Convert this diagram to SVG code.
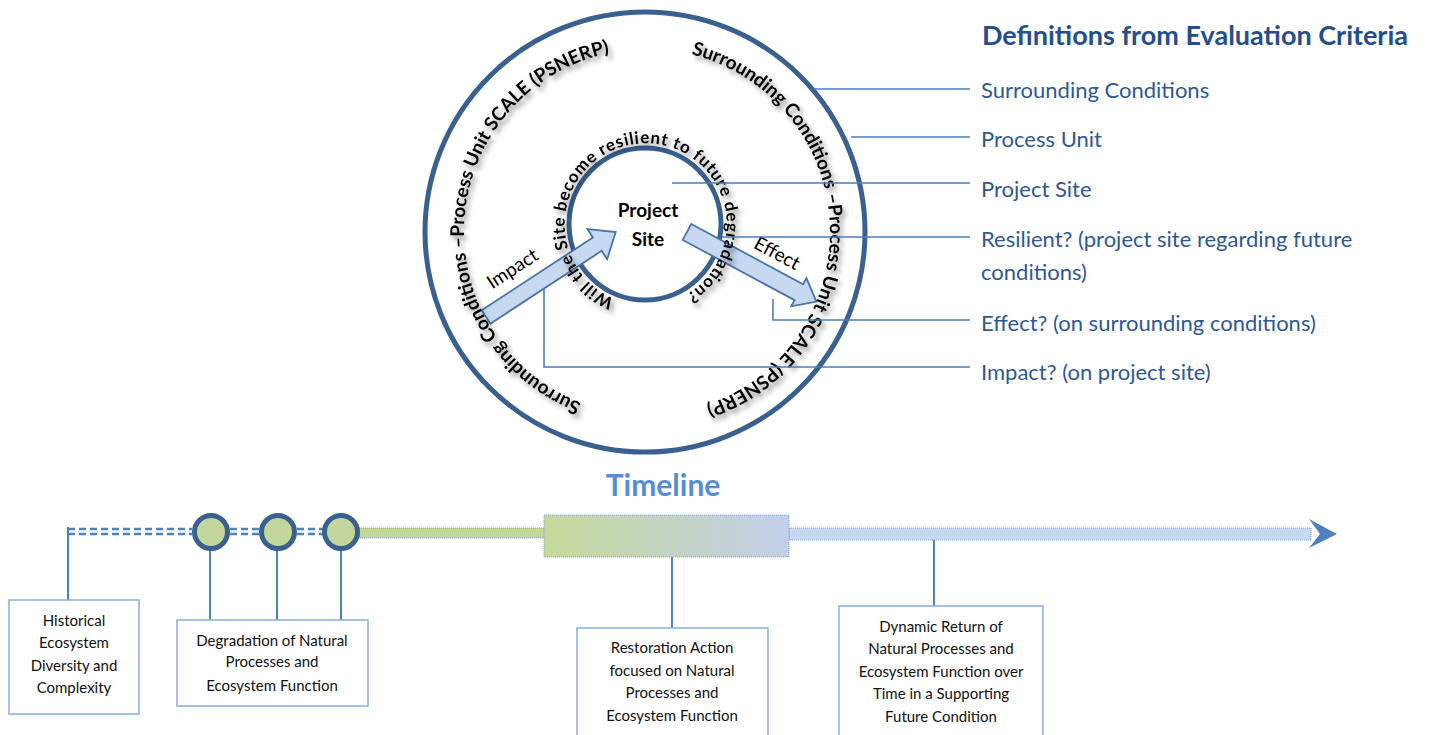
<svg xmlns="http://www.w3.org/2000/svg" width="1431" height="735" viewBox="0 0 1431 735">
<style>
.ring{fill:none;stroke:#3a6090;stroke-width:5}
.lead{fill:none;stroke:#4a7ebb;stroke-width:1.6}
.def{font-family:Lato,"Open Sans",sans-serif;font-size:22px;fill:#2e5896}
.ctext{font-family:Lato,"Open Sans",sans-serif;font-weight:bold;fill:#000}
.arrow{fill:#c6d9f1;stroke:#4a73a8;stroke-width:1.8}
.alab{font-family:Lato,"Open Sans",sans-serif;font-size:19px;fill:#000}
.bx{fill:#fff;stroke:#8db3e2;stroke-width:1.6}
.bt{font-family:Lato,"Open Sans",sans-serif;font-size:15px;fill:#111;text-anchor:middle}
.vl{stroke:#4f81bd;stroke-width:2}
.dash{stroke:#4f81bd;stroke-width:2.5;stroke-dasharray:7 4}
.dot{fill:#c3d69b;stroke:#3a6090;stroke-width:5}
</style>
<defs>
<filter id="sh" x="-10%" y="-10%" width="120%" height="120%">
<feDropShadow dx="3" dy="4" stdDeviation="2.5" flood-color="#000" flood-opacity="0.45"/>
</filter>
<linearGradient id="grad" x1="0" y1="0" x2="1" y2="0">
<stop offset="0" stop-color="#c5d89a"/>
<stop offset="1" stop-color="#c2cfea"/>
</linearGradient>
<path id="pA" d="M 581.4 402.8 A 183 183 0 1 1 817.8 297.6"/>
<path id="pB" d="M 691.3 54.4 A 183 183 0 1 1 469.4 187.7"/>
<path id="pI" d="M 614.7 299.1 A 81 81 0 1 1 621.3 301.5"/>
</defs>

<g id="rings">
<circle class="ring" cx="645" cy="232" r="220"/>
<circle class="ring" cx="645" cy="224" r="76"/>
</g>

<g id="arrows">
<polygon class="arrow" transform="translate(486,317) rotate(-33.2)" points="0,-8 133,-8 133,-18 155,0 133,18 133,8 0,8"/>
<polygon class="arrow" transform="translate(687,232) rotate(28.3)" points="0,-9 127,-9 127,-16 147,0 127,16 127,9 0,9"/>
<text class="alab" transform="translate(516,274) rotate(-33)" text-anchor="middle">Impact</text>
<text class="alab" transform="translate(774,259) rotate(28)" text-anchor="middle">Effect</text>
</g>

<g id="circle-text">
<g filter="url(#sh)">
<text class="ctext" font-size="19"><textPath href="#pA" textLength="470" lengthAdjust="spacing">Surrounding Conditions –Process Unit SCALE (PSNERP)</textPath></text>
<text class="ctext" font-size="19"><textPath href="#pB" textLength="470" lengthAdjust="spacing">Surrounding Conditions –Process Unit SCALE (PSNERP)</textPath></text>
<text class="ctext" font-size="17"><textPath href="#pI" textLength="434" lengthAdjust="spacing">Will the Site become resilient to future degradation?</textPath></text>
</g>
<text class="ctext" font-size="19" x="648" y="217" text-anchor="middle">Project</text>
<text class="ctext" font-size="19" x="648" y="246" text-anchor="middle">Site</text>
</g>

<g id="connectors">
<line class="lead" x1="815" y1="89" x2="970" y2="89"/>
<line class="lead" x1="851" y1="137" x2="970" y2="137"/>
<line class="lead" x1="672" y1="183" x2="970" y2="183"/>
<line class="lead" x1="722" y1="237" x2="970" y2="237"/>
<polyline class="lead" points="773,299 773,320 970,320"/>
<polyline class="lead" points="544,288 544,367 970,367"/>
<line class="vl" x1="68" y1="527" x2="68" y2="600"/>
<line class="vl" x1="210" y1="550" x2="210" y2="620"/>
<line class="vl" x1="277" y1="550" x2="277" y2="620"/>
<line class="vl" x1="341" y1="550" x2="341" y2="620"/>
<line class="vl" x1="672" y1="557" x2="672" y2="628"/>
<line class="vl" x1="934" y1="540" x2="934" y2="606"/>
</g>

<g id="definitions">
<text x="982" y="45" font-family="Lato,'Open Sans',sans-serif" font-size="27" font-weight="bold" fill="#254f8a">Definitions from Evaluation Criteria</text>
<text class="def" x="981" y="98">Surrounding Conditions</text>
<text class="def" x="981" y="147">Process Unit</text>
<text class="def" x="981" y="197">Project Site</text>
<text class="def" x="981" y="247">Resilient? (project site regarding future</text>
<text class="def" x="981" y="280">conditions)</text>
<text class="def" x="981" y="331">Effect? (on surrounding conditions)</text>
<text class="def" x="981" y="380">Impact? (on project site)</text>
</g>

<g id="timeline">
<text x="663" y="496" font-family="Lato,'Open Sans',sans-serif" font-size="30" font-weight="bold" fill="#558ed5" text-anchor="middle">Timeline</text>
<line class="dash" x1="68" y1="529" x2="192" y2="529"/>
<line class="dash" x1="68" y1="534" x2="192" y2="534"/>
<line class="dash" x1="230" y1="529" x2="259" y2="529"/>
<line class="dash" x1="230" y1="534" x2="259" y2="534"/>
<line class="dash" x1="297" y1="529" x2="323" y2="529"/>
<line class="dash" x1="297" y1="534" x2="323" y2="534"/>
<rect x="359" y="528" width="186" height="10" fill="#c3d69b" stroke="#7f9fcf" stroke-width="1" stroke-dasharray="1 1"/>
<rect x="789" y="528" width="522" height="12" fill="#c6d9f1" stroke="#7f9fcf" stroke-width="1" stroke-dasharray="1 1"/>
<rect x="544" y="515" width="245" height="42" fill="url(#grad)" stroke="#7f9fcf" stroke-width="1" stroke-dasharray="1 1"/>
<polygon points="1309,519 1337,534 1309,548 1320,534" fill="#4f81bd"/>
<circle class="dot" cx="211" cy="532" r="16.5"/>
<circle class="dot" cx="278" cy="532" r="16.5"/>
<circle class="dot" cx="341" cy="532" r="16.5"/>
</g>

<g id="box-historical">
<rect class="bx" x="9" y="600" width="130" height="114"/>
<text class="bt" x="74" y="626">Historical</text>
<text class="bt" x="74" y="648">Ecosystem</text>
<text class="bt" x="74" y="671">Diversity and</text>
<text class="bt" x="74" y="693">Complexity</text>
</g>
<g id="box-degradation">
<rect class="bx" x="177" y="620" width="191" height="86"/>
<text class="bt" x="272" y="646">Degradation of Natural</text>
<text class="bt" x="272" y="667">Processes and</text>
<text class="bt" x="272" y="691">Ecosystem Function</text>
</g>
<g id="box-restoration">
<rect class="bx" x="577" y="628" width="191" height="112"/>
<text class="bt" x="672" y="653">Restoration Action</text>
<text class="bt" x="672" y="676">focused on Natural</text>
<text class="bt" x="672" y="698">Processes and</text>
<text class="bt" x="672" y="721">Ecosystem Function</text>
</g>
<g id="box-dynamic">
<rect class="bx" x="839" y="606" width="204" height="134"/>
<text class="bt" x="941" y="632">Dynamic Return of</text>
<text class="bt" x="941" y="654">Natural Processes and</text>
<text class="bt" x="941" y="677">Ecosystem Function over</text>
<text class="bt" x="941" y="699">Time in a Supporting</text>
<text class="bt" x="941" y="722">Future Condition</text>
</g>
</svg>
